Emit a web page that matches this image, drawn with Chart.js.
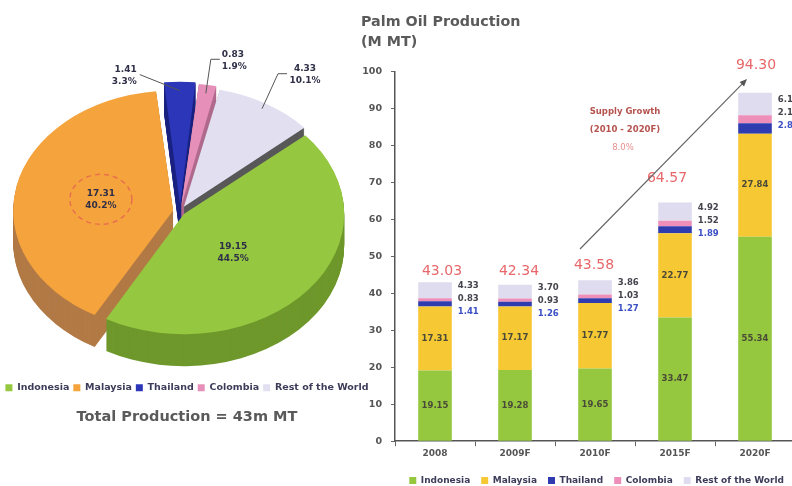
<!DOCTYPE html>
<html>
<head>
<meta charset="utf-8">
<script src="https://cdn.jsdelivr.net/npm/chart.js@4.4.1/dist/chart.umd.min.js"></script>
<style>
  html, body { margin: 0; padding: 0; background: #fff; overflow: hidden; width: 792px; height: 486px; }
  #pieBox { position: absolute; left: 0; top: 0; width: 384px; height: 440px; }
  #barBox { position: absolute; left: 358px; top: 0; width: 480px; height: 495px; }
</style>
</head>
<body>
<div id="pieBox"><canvas id="pie"></canvas></div>
<div id="barBox"><canvas id="bars"></canvas></div>
<script>
const FONT = "'DejaVu Sans', Verdana, sans-serif";

// production, million tonnes
const years = ['2008', '2009F', '2010F', '2015F', '2020F'];
const countries = ['Indonesia', 'Malaysia', 'Thailand', 'Colombia', 'Rest of the World'];
const indonesia = [19.15, 19.28, 19.65, 33.47, 55.34];
const malaysia = [17.31, 17.17, 17.77, 22.77, 27.84];
const thailand = [1.41, 1.26, 1.27, 1.89, 2.85];
const colombia = [0.83, 0.93, 1.03, 1.52, 2.15];
const restOfWorld = [4.33, 3.70, 3.86, 4.92, 6.12];
const series = [indonesia, malaysia, thailand, colombia, restOfWorld];

// pie = the 2008 split
const share2008 = series.map(s => s[0]);

const barColors = ['#95c83f', '#f6c834', '#2f3cb0', '#ee8fba', '#dedcee'];
const pieTop = ['#95c840', '#f5a33c', '#2b36b8', '#e690b9', '#e1dff0'];
const pieSide = ['#6f982c', '#b27a46', '#1b2380', '#b06a8c', '#585858'];
const pieOffset = [20, 28, 36, 30, 30];

// where the stack totals sit relative to the bar top (px)
const totalShift = [[7, 4], [4, 6], [-1, 8], [-8, 17], [1, 20]];

const TILT = 0.75;
const DEPTH = 32;
const PIE_DX = -7;   // pie sits a little left of the legend/title centre

Chart.defaults.font.family = FONT;

function withTilt(ctx, cx, cy, dy, fn) {
  ctx.save();
  ctx.translate(cx + PIE_DX, cy + dy);
  ctx.scale(1, TILT);
  ctx.translate(-cx, -cy);
  fn();
  ctx.restore();
}

function piePoint(arc, frac) {
  const a = (arc.startAngle + arc.endAngle) / 2;
  const r = arc.outerRadius * frac + (arc.options.offset || 0) / 4;
  return { x: arc.x + PIE_DX + Math.cos(a) * r, y: arc.y + Math.sin(a) * r * TILT };
}

// leader lines for the small slices: bends relative to the rim, then text
const callouts = {
  2: { bends: [[-40, -16]], align: 'right', tx: -3 },
  3: { bends: [[5, -34], [14, -34]], align: 'left', tx: 2 },
  4: { bends: [[16, -35], [25, -35]], align: 'center', tx: 18 }
};

const pie3d = {
  id: 'pie3d',
  beforeDatasetsDraw(chart) {
    const ctx = chart.ctx;
    const arcs = chart.getDatasetMeta(0).data;
    const cx = arcs[0].x, cy = arcs[0].y;
    // extruded walls
    for (let d = DEPTH; d > 0; d--) {
      arcs.forEach((arc, i) => {
        withTilt(ctx, cx, cy, d, () => {
          const opts = arc.options;
          arc.options = Object.assign({}, opts, { backgroundColor: pieSide[i], borderColor: pieSide[i], borderWidth: 0 });
          arc.draw(ctx);
          arc.options = opts;
        });
      });
    }
    // top faces
    arcs.forEach(arc => withTilt(ctx, cx, cy, 0, () => arc.draw(ctx)));
    return false;
  },
  afterDraw(chart) {
    const ctx = chart.ctx;
    const arcs = chart.getDatasetMeta(0).data;
    const total = share2008.reduce((a, b) => a + b, 0);
    ctx.save();
    ctx.fillStyle = '#2f2f48';
    ctx.font = `bold 9px ${FONT}`;
    ctx.textBaseline = 'middle';

    // big slices: labels on the face
    [0, 1].forEach(i => {
      const p = piePoint(arcs[i], 0.47);
      ctx.textAlign = 'center';
      ctx.fillText(share2008[i].toFixed(2), p.x - (i === 0 ? 8 : 0), p.y - 6 + (i === 0 ? 4 : 0));
      ctx.fillText((share2008[i] / total * 100).toFixed(1) + '%', p.x - (i === 0 ? 8 : 0), p.y + 6 + (i === 0 ? 4 : 0));
      if (i === 1) {
        ctx.save();
        ctx.strokeStyle = '#e8704e';
        ctx.lineWidth = 1.5;
        ctx.setLineDash([5, 4]);
        ctx.beginPath();
        ctx.ellipse(p.x, p.y, 31, 25, 0, 0, Math.PI * 2);
        ctx.stroke();
        ctx.restore();
      }
    });

    // small slices: callouts
    Object.keys(callouts).forEach(k => {
      const i = +k;
      const c = callouts[i];
      const rim = piePoint(arcs[i], 0.97);
      ctx.strokeStyle = '#555';
      ctx.lineWidth = 1;
      ctx.beginPath();
      ctx.moveTo(rim.x, rim.y);
      let end = rim;
      c.bends.forEach(b => { end = { x: rim.x + b[0], y: rim.y + b[1] }; ctx.lineTo(end.x, end.y); });
      ctx.stroke();
      ctx.textAlign = c.align;
      ctx.fillText(share2008[i].toFixed(2), end.x + c.tx, end.y - 5);
      ctx.fillText((share2008[i] / total * 100).toFixed(1) + '%', end.x + c.tx, end.y + 7);
    });
    ctx.restore();
  }
};

new Chart(document.getElementById('pie'), {
  type: 'pie',
  data: {
    labels: countries,
    datasets: [{ data: share2008, backgroundColor: pieTop, borderWidth: 0, offset: pieOffset }]
  },
  options: {
    animation: false,
    responsive: true,
    maintainAspectRatio: false,
    events: [],
    rotation: 49,
    radius: 157,
    layout: { padding: { top: 44, right: 10, left: 0, bottom: 0 } },
    plugins: {
      legend: {
        position: 'bottom',
        labels: { boxWidth: 7, boxHeight: 7, padding: 4, color: '#3c3c5a', font: { size: 9.5, weight: 'bold' } }
      },
      title: {
        display: true,
        position: 'bottom',
        text: 'Total Production = 43m MT',
        color: '#5a5a5a',
        font: { size: 14.5, weight: 'bold' },
        padding: { top: 6, bottom: 14 }
      },
      tooltip: { enabled: false }
    }
  },
  plugins: [pie3d]
});

const barLabels = {
  id: 'barLabels',
  afterDatasetsDraw(chart) {
    const ctx = chart.ctx;
    const metas = series.map((s, i) => chart.getDatasetMeta(i));
    const xs = chart.scales.x, ys = chart.scales.y;
    ctx.save();
    ctx.textBaseline = 'middle';
    years.forEach((yr, i) => {
      const bars = metas.map(m => m.data[i]);
      ctx.font = `bold 8.5px ${FONT}`;
      ctx.fillStyle = '#4a4a38';
      ctx.textAlign = 'center';
      [0, 1].forEach(k => {
        const b = bars[k];
        ctx.fillText(series[k][i].toFixed(2), b.x, (b.y + b.base) / 2);
      });

      // small segments, listed beside the bar
      const top = bars[4];
      const lx = top.x + top.width / 2 + 6;
      const ly = (top.y + top.base) / 2 - 4;
      ctx.textAlign = 'left';
      ctx.fillStyle = '#44444c';
      ctx.fillText(restOfWorld[i].toFixed(2), lx, ly);
      ctx.fillText(colombia[i].toFixed(2), lx, ly + 13);
      ctx.fillStyle = '#3b50c4';
      ctx.fillText(thailand[i].toFixed(2), lx, ly + 26);

      // stack total
      const total = series.reduce((a, s) => a + s[i], 0);
      ctx.font = `14px ${FONT}`;
      ctx.fillStyle = '#e8676a';
      ctx.textAlign = 'center';
      ctx.textBaseline = 'bottom';
      ctx.fillText(total.toFixed(2), top.x + totalShift[i][0], top.y - totalShift[i][1]);
      ctx.textBaseline = 'middle';
    });

    // growth arrow 2010F -> 2020F
    const t2010 = series.reduce((a, s) => a + s[2], 0);
    const t2020 = series.reduce((a, s) => a + s[4], 0);
    const cagr = Math.pow(t2020 / t2010, 1 / 10) - 1;
    const x0 = xs.getPixelForValue(2) - 15, y0 = ys.getPixelForValue(52);
    const x1 = xs.getPixelForValue(4) - 8, y1 = ys.getPixelForValue(98);
    const ang = Math.atan2(y1 - y0, x1 - x0);
    ctx.strokeStyle = '#666';
    ctx.fillStyle = '#555';
    ctx.lineWidth = 1.2;
    ctx.beginPath();
    ctx.moveTo(x0, y0);
    ctx.lineTo(x1 - Math.cos(ang) * 5, y1 - Math.sin(ang) * 5);
    ctx.stroke();
    ctx.beginPath();
    ctx.moveTo(x1, y1);
    ctx.lineTo(x1 - 8 * Math.cos(ang - 0.4), y1 - 8 * Math.sin(ang - 0.4));
    ctx.lineTo(x1 - 8 * Math.cos(ang + 0.4), y1 - 8 * Math.sin(ang + 0.4));
    ctx.closePath();
    ctx.fill();

    const gx = xs.getPixelForValue(2) + 30;
    ctx.textAlign = 'center';
    ctx.font = `bold 8.5px ${FONT}`;
    ctx.fillStyle = '#b5534f';
    ctx.fillText('Supply Growth', gx, ys.getPixelForValue(89));
    ctx.fillText('(2010 - 2020F)', gx, ys.getPixelForValue(84.2));
    ctx.font = `8.5px ${FONT}`;
    ctx.fillStyle = '#e59090';
    ctx.fillText((cagr * 100).toFixed(1) + '%', gx - 2, ys.getPixelForValue(79.5));
    ctx.restore();
  }
};

new Chart(document.getElementById('bars'), {
  type: 'bar',
  data: {
    labels: years,
    datasets: countries.map((name, i) => ({
      label: name,
      data: series[i],
      backgroundColor: barColors[i],
      borderWidth: 0,
      barPercentage: 0.84,
      categoryPercentage: 0.5
    }))
  },
  options: {
    animation: false,
    responsive: true,
    maintainAspectRatio: false,
    events: [],
    layout: { padding: { left: 3, right: 43, top: 0, bottom: 0 } },
    scales: {
      x: {
        stacked: true,
        grid: { drawOnChartArea: false, tickLength: 5, color: '#666' },
        border: { color: '#555', width: 1.5 },
        ticks: { color: '#555', padding: 2, font: { size: 9, weight: 'bold' } },
        afterFit(scale) { scale.height += 4; }
      },
      y: {
        stacked: true,
        min: 0,
        max: 100,
        ticks: { stepSize: 10, color: '#555', padding: 9, font: { size: 9.5, weight: 'bold' } },
        grid: { drawOnChartArea: false, tickLength: 4, color: '#666' },
        border: { color: '#555', width: 1.5 },
        afterFit(scale) { scale.width = 34; }
      }
    },
    plugins: {
      title: {
        display: true,
        align: 'start',
        text: ['Palm Oil Production', '(M MT)'],
        color: '#5a5a5a',
        font: { size: 14.3, weight: 'bold', lineHeight: 1.35 },
        padding: { top: 13, bottom: 20 }
      },
      legend: {
        position: 'bottom',
        align: 'end',
        labels: { boxWidth: 7, boxHeight: 7, padding: 11, color: '#3c3c5a', font: { size: 9, weight: 'bold' } }
      },
      tooltip: { enabled: false }
    }
  },
  plugins: [barLabels]
});
</script>
</body>
</html>
